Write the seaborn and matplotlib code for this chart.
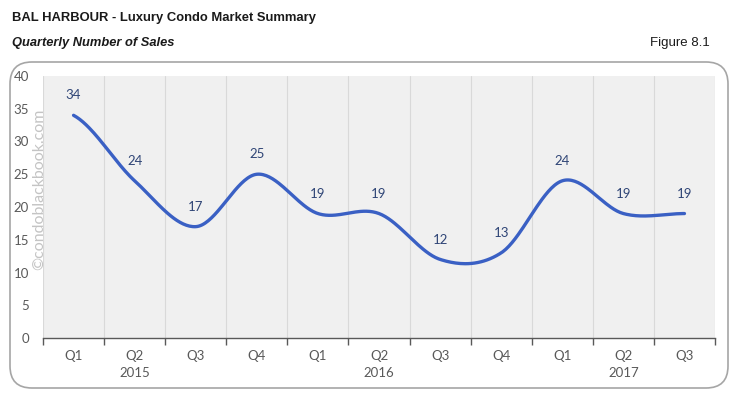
import matplotlib
matplotlib.use("Agg")
import matplotlib.pyplot as plt
from matplotlib.patches import FancyBboxPatch
import numpy as np
import pandas as pd
import seaborn as sns

# ── data ───────────────────────────────────────────────────────
quarters = ["Q1", "Q2", "Q3", "Q4", "Q1", "Q2", "Q3", "Q4", "Q1", "Q2", "Q3"]
years = ["2015", "2016", "2017"]
year_pos = [1, 5, 9]
sales = [34, 24, 17, 25, 19, 19, 12, 13, 24, 19, 19]

sns.set_theme(style="white")
plt.rcParams["font.family"] = ["Lato", "DejaVu Sans"]

fig = plt.figure(figsize=(7.31, 3.99), dpi=100)
W, H = 731, 399

# rounded frame around the chart
frame = FancyBboxPatch((10 / W, (H - 388) / H), 718 / W, 326 / H,
                       boxstyle="round,pad=0,rounding_size=0.03",
                       transform=fig.transFigure, facecolor="white",
                       edgecolor="#a6a6a6", linewidth=1.2, mutation_aspect=W / H,
                       zorder=-5)
fig.patches.append(frame)

ax = fig.add_axes([43 / W, (H - 338) / H, 672 / W, 262 / H])
ax.set_facecolor("#f0f0f0")

# smoothed line (Catmull-Rom, like Excel's smoothed line)
x = np.arange(len(sales), dtype=float)
y = np.array(sales, dtype=float)
m = np.zeros_like(y)
m[1:-1] = (y[2:] - y[:-2]) / 2
m[0] = (y[1] - y[0]) / 2
m[-1] = (y[-1] - y[-2]) / 2
xs, ys = [], []
for i in range(len(y) - 1):
    t = np.linspace(0, 1, 40)
    h00 = 2 * t**3 - 3 * t**2 + 1
    h10 = t**3 - 2 * t**2 + t
    h01 = -2 * t**3 + 3 * t**2
    h11 = t**3 - t**2
    xs.append(x[i] + t)
    ys.append(h00 * y[i] + h10 * m[i] + h01 * y[i + 1] + h11 * m[i + 1])
smooth = pd.DataFrame({"x": np.concatenate(xs), "y": np.concatenate(ys)})
sns.lineplot(data=smooth, x="x", y="y", ax=ax, color="#3a60c4",
             linewidth=2.4, sort=False, estimator=None)

for i, v in enumerate(sales):
    ax.annotate(str(v), (i, v), xytext=(0, 10), textcoords="offset points",
                ha="center", va="bottom", fontsize=9.5, color="#2f4576")

ax.set_xlim(-0.5, len(sales) - 0.5)
ax.set_ylim(0, 40)
ax.set_yticks(range(0, 41, 5))
ax.set_xticks(range(len(sales)))
ax.set_xticklabels(quarters)
ax.set_xticks(np.arange(-0.5, len(sales), 1), minor=True)
ax.grid(which="minor", axis="x", color="#d9d9d9", linewidth=0.8)
ax.grid(which="major", visible=False)
ax.tick_params(axis="x", which="major", length=0, pad=9, labelsize=9.5, labelcolor="#595959")
ax.tick_params(axis="x", which="minor", length=5, width=1, color="#595959", direction="out", bottom=True)
ax.tick_params(axis="y", length=0, pad=10, labelsize=9.5, labelcolor="#595959")
ax.set_xlabel("")
ax.set_ylabel("")
for s in ["top", "right", "left"]:
    ax.spines[s].set_visible(False)
ax.spines["bottom"].set_color("#595959")
ax.spines["bottom"].set_linewidth(1)

for yr, p in zip(years, year_pos):
    ax.text(p, -0.11, yr, transform=ax.get_xaxis_transform(), ha="center",
            va="top", fontsize=9.5, color="#595959")

# watermark
fig.text(39 / W, (H - 189) / H, "\u00a9condoblackbook.com", rotation=90,
         ha="center", va="center", fontsize=11.5, color="#c4c4c4")

fig.text(12 / W, (H - 18) / H, "BAL HARBOUR - Luxury Condo Market Summary",
         fontsize=9.4, fontweight="bold", family=["Liberation Sans", "DejaVu Sans"],
         va="center", ha="left", color="#1a1a1a")
fig.text(12 / W, (H - 43) / H, "Quarterly Number of Sales", fontsize=9.3,
         fontweight="bold", style="italic", family=["Liberation Sans", "DejaVu Sans"],
         va="center", ha="left", color="#1a1a1a")
fig.text(710 / W, (H - 43) / H, "Figure 8.1", fontsize=9.5,
         family=["Liberation Sans", "DejaVu Sans"], va="center", ha="right",
         color="#1a1a1a")

fig.savefig("out.png", dpi=100)
